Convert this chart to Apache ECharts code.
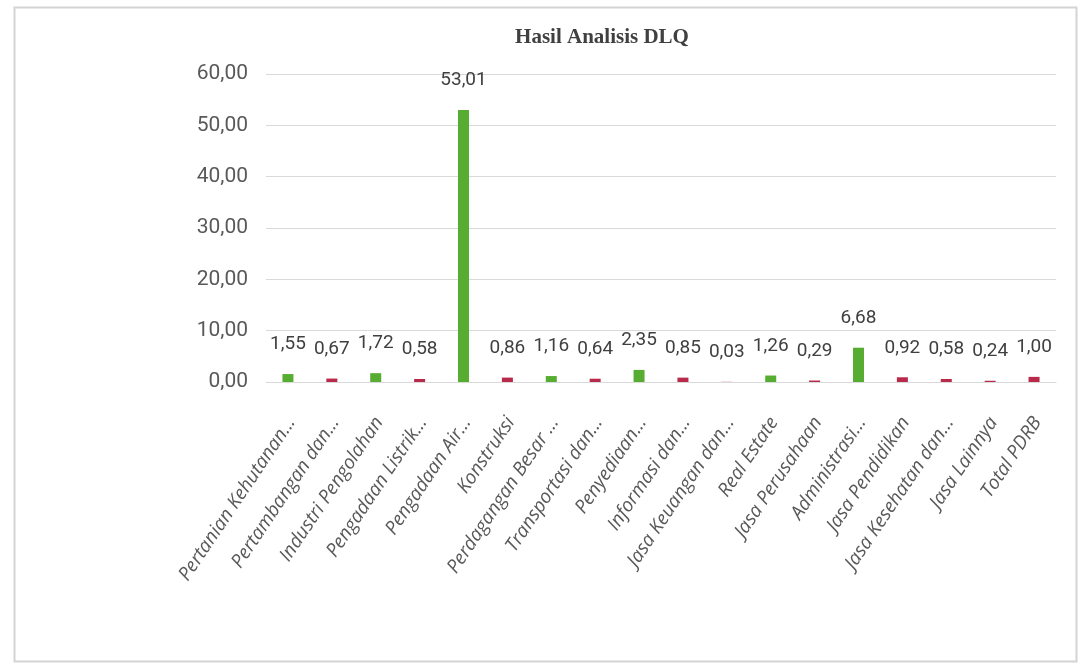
<!DOCTYPE html>
<html>
<head>
<meta charset="utf-8">
<script src="https://cdn.jsdelivr.net/npm/echarts@6/dist/echarts.min.js"></script>
<style>html,body{margin:0;padding:0;background:#fff;}#c{width:1080px;height:664px;}</style>
</head>
<body>
<div id="c"></div>
<script>
var categories = ["Pertanian Kehutanan...", "Pertambangan dan...", "Industri Pengolahan", "Pengadaan Listrik...", "Pengadaan Air...", "Konstruksi", "Perdagangan Besar ...", "Transportasi dan...", "Penyediaan...", "Informasi dan...", "Jasa Keuangan dan...", "Real Estate", "Jasa Perusahaan", "Administrasi...", "Jasa Pendidikan", "Jasa Kesehatan dan...", "Jasa Lainnya", "Total PDRB"];
var dlqValues = [1.55, 0.67, 1.72, 0.58, 53.01, 0.86, 1.16, 0.64, 2.35, 0.85, 0.03, 1.26, 0.29, 6.68, 0.92, 0.58, 0.24, 1.00];
var yTicks = [0, 10, 20, 30, 40, 50, 60];
var titleText = "Hasil Analisis DLQ";

var numFont = "Roboto,'Noto Sans',sans-serif";
function fmt(v){ return Number(v).toFixed(2).replace('.', ','); }

var chart = echarts.init(document.getElementById('c'));
chart.setOption({
  animation: false,
  backgroundColor: '#ffffff',
  graphic: [{
    type: 'rect', left: 12, top: 5, z: -1,
    shape: { width: 1062, height: 654 },
    style: { fill: 'none', stroke: '#d4d4d4', lineWidth: 2 }
  }],
  title: {
    text: titleText,
    left: 597, top: 22, textAlign: 'center',
    textStyle: { fontFamily: "'Liberation Serif','DejaVu Serif',serif", fontWeight: 'bold', fontSize: 21, color: '#404040' }
  },
  grid: { left: 266, right: 24, top: 74, bottom: 282, containLabel: false },
  xAxis: {
    type: 'category',
    data: categories,
    axisLine: { lineStyle: { color: '#d9d9d9', width: 1 } },
    axisTick: { show: false },
    axisLabel: {
      interval: 0, rotate: 56, margin: 42,
      fontFamily: "'Open Sans','Noto Sans',sans-serif", fontStyle: 'italic', fontSize: 19, color: '#595959',
      padding: [0, -6, 0, 0]
    }
  },
  yAxis: {
    type: 'value', min: yTicks[0], max: yTicks[yTicks.length - 1], interval: 10,
    axisLine: { show: false }, axisTick: { show: false },
    splitLine: { lineStyle: { color: '#d9d9d9', width: 1 } },
    axisLabel: { margin: 18, fontFamily: numFont, fontSize: 21, color: '#595959', formatter: fmt }
  },
  series: [{
    type: 'bar',
    data: dlqValues.map(function(v){ return { value: v, itemStyle: { color: v > 1 ? '#57ad32' : '#b8294a' } }; }),
    barWidth: 11,
    label: { show: true, position: 'top', distance: 20, fontFamily: numFont, fontSize: 19, color: '#404040', formatter: function(p){ return fmt(p.value); } }
  }]
});
</script>
</body>
</html>
